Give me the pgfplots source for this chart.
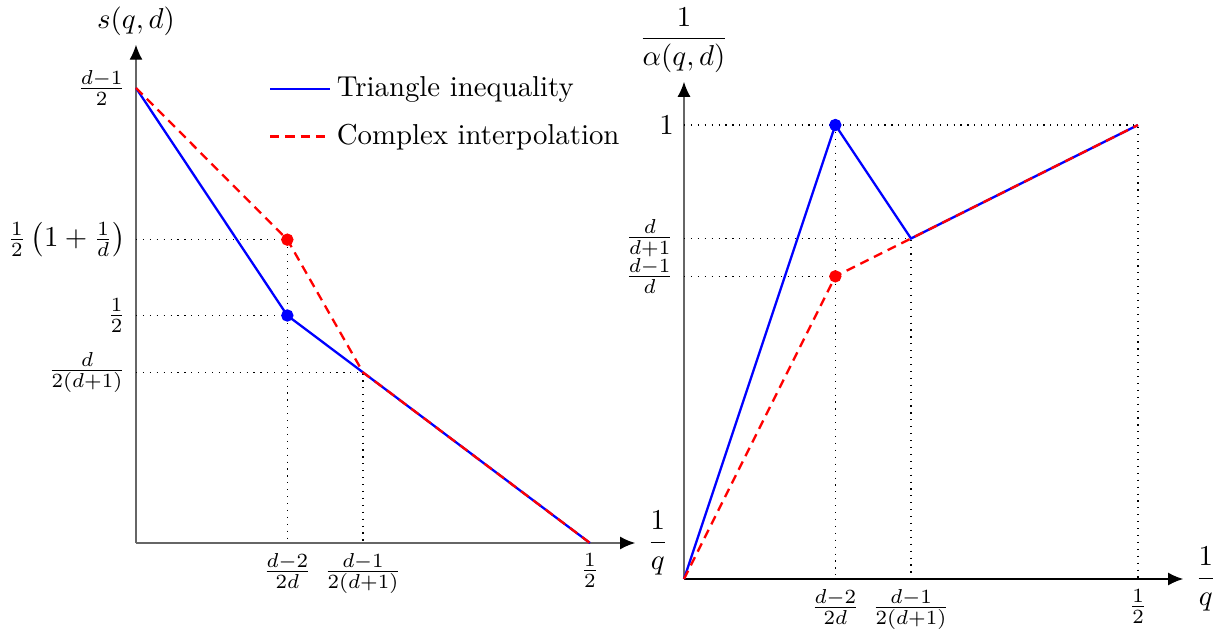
\documentclass[border=0pt]{standalone}
\usepackage{pgfplots}
\pgfplotsset{compat=1.18}
\usetikzlibrary{arrows.meta}
\begin{document}
\begin{tikzpicture}
% 1 px of the reference = 1/2.88 pt
\path[use as bounding box] (0,0) rectangle (423.96pt,-220.14pt);
\pgfplotsset{
  sketch/.style={
    x=315.28pt,
    xmin=0, xmax=0.5496, ymin=0, ymax=1.095,
    axis lines=left,
    enlargelimits=false,
    clip=false,
    major tick length=0pt,
    axis line style={-{Latex[length=5.2pt,width=4.5pt,color=black]}},
    every axis x label/.style={at={(rel axis cs:1,0)}, anchor=west, inner sep=4pt},
    every axis y label/.style={at={(rel axis cs:0,1)}, anchor=south, inner sep=3pt},
  },
  guide/.style={dotted, black, forget plot},
  tri/.style={blue, thick},
  cpx/.style={red, thick, dash pattern=on 3.2pt off 2.1pt},
}
% left: s(q,d), d = 3
\begin{axis}[sketch,
  at={(47.22pt,-188.54pt)}, anchor=south west,
  y=157.99pt,
  axis line style={black!60},
  xtick={0.16667,0.25,0.5},
  xticklabels={$\frac{d-2}{2d}$,$\frac{d-1}{2(d+1)}$,$\frac12$},
  ytick={0.375,0.5,0.66667,1},
  yticklabels={$\frac{d}{2(d+1)}$,$\frac12$,$\frac12\left(1+\frac1d\right)$,$\frac{d-1}{2}$},
  xlabel={$\displaystyle\frac{1}{q}$},
  ylabel={$s(q,d)$},
  legend style={at={(rel axis cs:0.248,0.960)}, anchor=north west,
    draw=none, fill=none, row sep=4pt, font=\normalsize},
  legend cell align=left,
  legend image code/.code={\draw[#1] (0pt,0pt) -- (20.8pt,0pt);},
]
\addplot[guide] coordinates {(0,0.66667) (0.16667,0.66667) (0.16667,0)};
\addplot[guide] coordinates {(0,0.5) (0.16667,0.5)};
\addplot[guide] coordinates {(0,0.375) (0.25,0.375) (0.25,0)};
\addplot[tri] coordinates {(0,1) (0.16667,0.5) (0.25,0.375) (0.5,0)};
\addlegendentry{Triangle inequality}
\addplot[cpx] coordinates {(0,1) (0.16667,0.66667) (0.25,0.375) (0.5,0)};
\addlegendentry{Complex interpolation}
\addplot[only marks, mark=*, mark size=1.95pt, blue, forget plot] coordinates {(0.16667,0.5)};
\addplot[only marks, mark=*, mark size=1.95pt, red, forget plot] coordinates {(0.16667,0.66667)};
\end{axis}
% right: 1/alpha(q,d), d = 3
\begin{axis}[sketch,
  at={(237.5pt,-201.04pt)}, anchor=south west,
  y=157.64pt,
  x axis line style={black},
  y axis line style={black!60},
  xtick={0.16667,0.25,0.5},
  xticklabels={$\frac{d-2}{2d}$,$\frac{d-1}{2(d+1)}$,$\frac12$},
  ytick={0.66667,0.75,1},
  yticklabels={$\frac{d-1}{d}$,$\frac{d}{d+1}$,$1$},
  xlabel={$\displaystyle\frac{1}{q}$},
  ylabel={$\displaystyle\frac{1}{\alpha(q,d)}$},
]
\addplot[guide] coordinates {(0,1) (0.5,1) (0.5,0)};
\addplot[guide] coordinates {(0.16667,1) (0.16667,0)};
\addplot[guide] coordinates {(0,0.75) (0.25,0.75) (0.25,0)};
\addplot[guide] coordinates {(0,0.66667) (0.16667,0.66667)};
\addplot[tri] coordinates {(0,0) (0.16667,1) (0.25,0.75) (0.5,1)};
\addplot[cpx] coordinates {(0,0) (0.16667,0.66667) (0.25,0.75) (0.5,1)};
\addplot[only marks, mark=*, mark size=1.95pt, blue] coordinates {(0.16667,1)};
\addplot[only marks, mark=*, mark size=1.95pt, red] coordinates {(0.16667,0.66667)};
\end{axis}
\end{tikzpicture}
\end{document}
